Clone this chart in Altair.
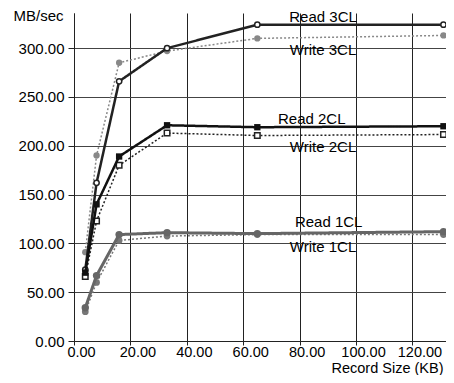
import altair as alt
import pandas as pd

# Data
record_kb = [4, 8, 16, 33, 65, 131]
series_names = ["Write 3CL", "Read 3CL", "Write 2CL", "Read 2CL", "Write 1CL", "Read 1CL"]
read_3cl = [73, 162, 266, 300, 324, 324]
write_3cl = [91, 190, 285, 297, 310, 313]
read_2cl = [70, 140, 189, 221, 219, 220]
write_2cl = [66, 123, 180, 213, 210.5, 211.5]
read_1cl = [34, 67, 109, 111, 110, 112]
write_1cl = [30, 60, 103, 107.5, 109, 109]

label_text = ["Read 3CL", "Write 3CL", "Read 2CL", "Write 2CL", "Read 1CL", "Write 1CL"]
label_x = [88.3, 88.3, 84.3, 88.3, 90.3, 88.3]
label_y = [332, 298, 227, 198.5, 121.6, 96.6]

x_ticks = [0, 20, 40, 60, 80, 100, 120]
y_ticks = [0, 50, 100, 150, 200, 250, 300]

values = {
    "Read 3CL": read_3cl, "Write 3CL": write_3cl,
    "Read 2CL": read_2cl, "Write 2CL": write_2cl,
    "Read 1CL": read_1cl, "Write 1CL": write_1cl,
}

styles = {
    "Read 3CL": dict(color="#222222", width=2.5, dash=[1, 0], shape="circle", filled=False, size=28),
    "Write 3CL": dict(color="#888888", width=1.5, dash=[2, 2], shape="circle", filled=True, size=40),
    "Read 2CL": dict(color="#111111", width=2.5, dash=[1, 0], shape="square", filled=True, size=40),
    "Write 2CL": dict(color="#222222", width=1.5, dash=[2, 2], shape="square", filled=False, size=30),
    "Read 1CL": dict(color="#666666", width=3, dash=[1, 0], shape="circle", filled=True, size=55),
    "Write 1CL": dict(color="#777777", width=1.5, dash=[2, 2], shape="circle", filled=True, size=45),
}

FONT = "Liberation Sans"
xscale = alt.Scale(domain=[0, 131.9], nice=False, zero=False)
yscale = alt.Scale(domain=[0, 336], nice=False)

xaxis = alt.Axis(values=x_ticks, format=".2f", title="Record Size (KB)", grid=True,
                 gridColor="#222222", gridWidth=1, domainColor="#222222", tickColor="#222222",
                 tickSize=4, labelFontSize=14.5, labelFont=FONT, labelColor="#000000", labelOffset=7,
                 labelPadding=0, titleFontSize=14.5, titleFont=FONT, titleFontWeight="normal",
                 titleColor="#000000", titleAnchor="end", titleAlign="right", titleX=369, titleY=27,
                 titleBaseline="middle", labelFlush=False)
yaxis = alt.Axis(values=y_ticks, format=".2f", title="MB/sec", grid=True,
                 gridColor="#444444", gridWidth=1.2, domainColor="#222222", tickColor="#222222",
                 tickSize=6, labelFontSize=15, labelFont=FONT, labelColor="#000000",
                 labelPadding=4, titleFontSize=15, titleFont=FONT, titleFontWeight="normal",
                 titleColor="#000000", titleAngle=0, titleAlign="right", titleBaseline="middle",
                 titleX=-11, titleY=2)

enc_x = alt.X("x:Q", scale=xscale, axis=xaxis)
enc_y = alt.Y("y:Q", scale=yscale, axis=yaxis)

layers = []
for name in series_names:
    st = styles[name]
    df = pd.DataFrame({"x": record_kb, "y": values[name], "series": name})
    base = alt.Chart(df)
    line = base.mark_line(color=st["color"], strokeWidth=st["width"], strokeDash=st["dash"],
                          clip=False).encode(x=enc_x, y=enc_y)
    pts = base.mark_point(shape=st["shape"], filled=st["filled"], size=st["size"],
                          color=st["color"], fill=st["color"] if st["filled"] else "white",
                          strokeWidth=1.5, opacity=1).encode(x=enc_x, y=enc_y)
    layers += [line, pts]

labels_df = pd.DataFrame({"text": label_text, "x": label_x, "y": label_y})
labels = alt.Chart(labels_df).mark_text(font=FONT, fontSize=15, color="#000000",
                                        align="center", baseline="middle").encode(
    x=enc_x, y=enc_y, text="text:N")
layers.append(labels)

chart = alt.layer(*layers).properties(
    width=372, height=328,
    autosize=alt.AutoSizeParams(type="none"),
    padding={"left": 66, "top": 5, "right": 0, "bottom": 34},
    background="white",
).configure_view(stroke=None)

chart.save("out.html", embed_options={"renderer": "svg", "actions": False})
